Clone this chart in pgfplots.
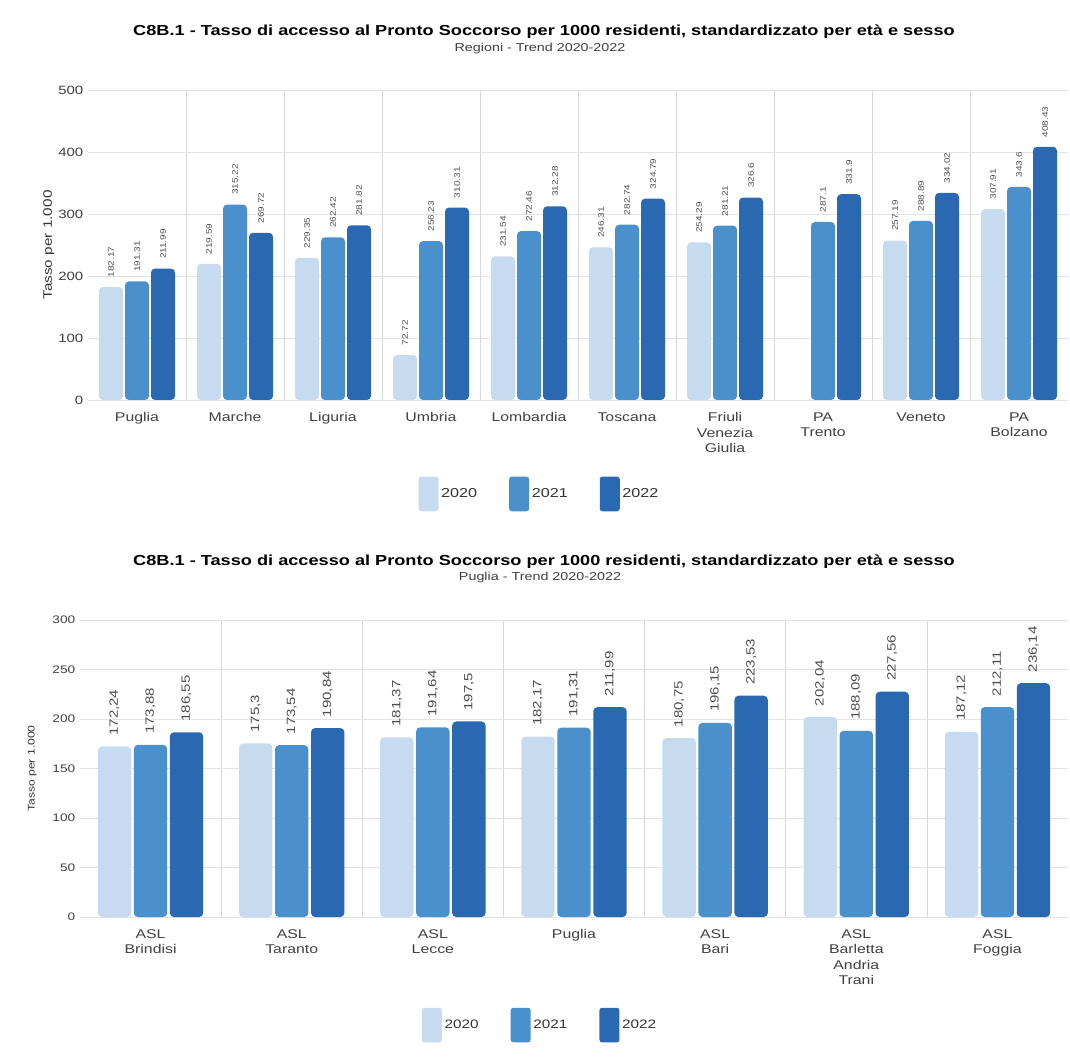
\documentclass[border=0pt]{standalone}
\usepackage{fontspec}
\setmainfont{Liberation Sans}[FakeStretch=1.25]
\usepackage{pgfplots}
\pgfplotsset{compat=1.18}
\definecolor{c20}{HTML}{C6DBEF}
\definecolor{c21}{HTML}{4A90CD}
\definecolor{c22}{HTML}{2A68B1}
\pgfplotsset{
  mystyle/.style={
    scale only axis,
    axis line style={draw=none},
    major tick length=0pt, minor tick length=0pt,
    ymajorgrids, grid style={gray!22},
    xminorgrids, minor grid style={gray!30},
    tick label style={text=black!75},
    xticklabel style={align=center, anchor=north, yshift=-6pt},
    /pgf/number format/assume math mode=true,
    nodes near coords,
    legend columns=3,
    legend style={draw=none, fill=none, text=black!80,
      /tikz/every even column/.append style={column sep=22pt}},
    every axis plot/.append style={draw=none, rounded corners=3pt},
  }
}
\begin{document}
\begin{tikzpicture}
\path[use as bounding box] (0,0) rectangle (802.5pt,792.75pt);
% top titles
\node[font=\bfseries\fontsize{10.9}{13}\selectfont] at (408pt,768.75pt) {C8B.1 - Tasso di accesso al Pronto Soccorso per 1000 residenti, standardizzato per età e sesso};
\node[font=\fontsize{8.6}{10}\selectfont, text=black!75] at (405pt,756pt) {Regioni - Trend 2020-2022};
\begin{axis}[mystyle,
  at={(66pt,492.75pt)}, anchor=south west,
  width=735pt, height=232.5pt,
  ymin=0, ymax=500, ytick={0,100,...,500},
  xmin=-0.5, xmax=9.5,
  xtick={0,...,9},
  minor xtick={0.5,1.5,...,8.5},
  xticklabels={Puglia,Marche,Liguria,Umbria,Lombardia,Toscana,{Friuli\\Venezia\\Giulia},{PA\\Trento},Veneto,{PA\\Bolzano}},
  xticklabel style={font=\fontsize{9.5}{11.5}\selectfont},
  yticklabel style={font=\fontsize{9}{10}\selectfont},
  ybar=1.5pt, bar width=18pt,
  every node near coord/.append style={rotate=90, anchor=west, text=black!70, inner xsep=7pt, font=\fontsize{6}{7}\selectfont},
  legend image code/.code={\fill[#1, rounded corners=2pt] (0pt,-13pt) rectangle (15pt,13pt);},
  ylabel={Tasso per 1.000},
  ylabel style={font=\fontsize{9.2}{10}\selectfont, text=black!80, yshift=-4pt},
  legend style={at={(0.461,-0.303)}, anchor=center, font=\fontsize{9.7}{11}\selectfont},
]
\addplot[fill=c20] coordinates {(0,182.17) (1,219.59) (2,229.35) (3,72.72) (4,231.54) (5,246.31) (6,254.29) (8,257.19) (9,307.91)};
\addplot[fill=c21] coordinates {(0,191.31) (1,315.22) (2,262.42) (3,256.23) (4,272.46) (5,282.74) (6,281.21) (7,287.1) (8,288.89) (9,343.6)};
\addplot[fill=c22] coordinates {(0,211.99) (1,269.72) (2,281.82) (3,310.31) (4,312.28) (5,324.79) (6,326.6) (7,331.9) (8,334.02) (9,408.43)};
\legend{2020,2021,2022}
\end{axis}
% bottom titles
\node[font=\bfseries\fontsize{10.9}{13}\selectfont] at (408pt,371.25pt) {C8B.1 - Tasso di accesso al Pronto Soccorso per 1000 residenti, standardizzato per età e sesso};
\node[font=\fontsize{8.6}{10}\selectfont, text=black!75] at (405pt,359.5pt) {Puglia - Trend 2020-2022};
\begin{axis}[mystyle,
  at={(60pt,105pt)}, anchor=south west,
  width=741pt, height=222.75pt,
  ymin=0, ymax=300, ytick={0,50,...,300},
  xmin=-0.5, xmax=6.5,
  xtick={0,...,6},
  minor xtick={0.5,1.5,...,5.5},
  xticklabels={{ASL\\Brindisi},{ASL\\Taranto},{ASL\\Lecce},Puglia,{ASL\\Bari},{ASL\\Barletta\\Andria\\Trani},{ASL\\Foggia}},
  xticklabel style={font=\fontsize{9.5}{11.5}\selectfont},
  yticklabel style={font=\fontsize{8.2}{9.5}\selectfont},
  ybar=2pt, bar width=25pt,
  /pgf/number format/use comma,
  every node near coord/.append style={rotate=90, anchor=west, text=black!70, inner xsep=8pt, font=\fontsize{9}{10}\selectfont},
  legend image code/.code={\fill[#1, rounded corners=2pt] (0pt,-13pt) rectangle (15pt,13pt);},
  ylabel={Tasso per 1.000},
  ylabel style={font=\fontsize{7.3}{9}\selectfont, text=black!80, yshift=5pt},
  legend style={at={(0.466,-0.364)}, anchor=center, font=\fontsize{9.2}{10}\selectfont},
]
\addplot[fill=c20] coordinates {(0,172.24) (1,175.3) (2,181.37) (3,182.17) (4,180.75) (5,202.04) (6,187.12)};
\addplot[fill=c21] coordinates {(0,173.88) (1,173.54) (2,191.64) (3,191.31) (4,196.15) (5,188.09) (6,212.11)};
\addplot[fill=c22] coordinates {(0,186.55) (1,190.84) (2,197.5) (3,211.99) (4,223.53) (5,227.56) (6,236.14)};
\legend{2020,2021,2022}
\end{axis}
\end{tikzpicture}
\end{document}
